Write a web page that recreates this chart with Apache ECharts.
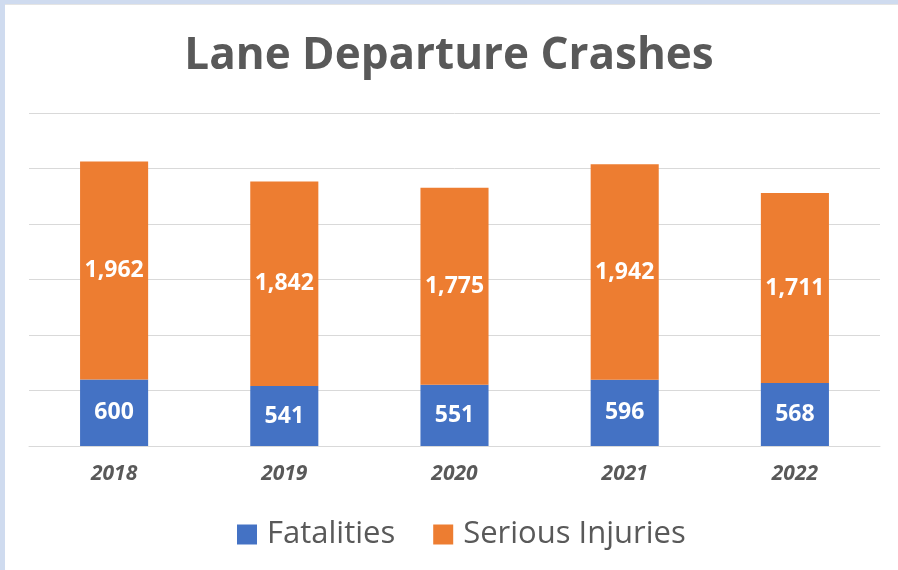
<!DOCTYPE html>
<html>
<head>
<meta charset="utf-8">
<script src="https://cdn.jsdelivr.net/npm/echarts@6/dist/echarts.min.js"></script>
<style>
html,body{margin:0;padding:0;background:#fff;}
#chart{width:898px;height:570px;}
</style>
</head>
<body>
<div id="chart"></div>
<script>
const categories = ['2018', '2019', '2020', '2021', '2022'];
const fatalities = [600, 541, 551, 596, 568];
const seriousInjuries = [1962, 1842, 1775, 1942, 1711];
const seriesNames = ['Fatalities', 'Serious Injuries'];

const chart = echarts.init(document.getElementById('chart'), null, {renderer: 'canvas'});
const FONT = '"Open Sans", "Noto Sans", sans-serif';
const labelStyle = {
  show: true,
  position: 'inside',
  color: '#ffffff',
  fontFamily: FONT,
  fontWeight: 'bold',
  fontSize: 23,
  formatter: p => p.value.toLocaleString('en-US')
};
chart.setOption({
  animation: false,
  backgroundColor: '#ffffff',
  title: {
    text: 'Lane Departure Crashes',
    left: 'center',
    top: 29,
    textStyle: {fontFamily: FONT, fontWeight: 'bold', fontSize: 44, color: '#595959'}
  },
  graphic: [
    {type: 'rect', shape: {x: 0, y: 0, width: 898, height: 4}, style: {fill: '#cfdbef'}, silent: true},
    {type: 'rect', shape: {x: 0, y: 4, width: 898, height: 1}, style: {fill: '#e4e4e4'}, silent: true},
    {type: 'rect', shape: {x: 0, y: 0, width: 5, height: 570}, style: {fill: '#cfdbef'}, silent: true}
  ],
  legend: {
    data: seriesNames,
    top: 514,
    left: 232,
    itemWidth: 20,
    itemHeight: 20,
    itemGap: 38,
    icon: 'rect',
    textStyle: {fontFamily: FONT, fontSize: 31, color: '#595959', padding: [0, 0, 0, 5]}
  },
  grid: {left: 29, right: 18, top: 113, bottom: 124, containLabel: false},
  xAxis: {
    type: 'category',
    data: categories,
    axisLine: {show: true, lineStyle: {color: '#d9d9d9', width: 1}},
    axisTick: {show: false},
    axisLabel: {
      margin: 18,
      fontFamily: FONT,
      fontWeight: 'bold',
      fontStyle: 'italic',
      fontSize: 21,
      color: '#595959'
    }
  },
  yAxis: {
    type: 'value',
    min: 0,
    max: 3000,
    interval: 500,
    axisLabel: {show: false},
    axisLine: {show: false},
    axisTick: {show: false},
    splitLine: {lineStyle: {color: '#d9d9d9', width: 1}}
  },
  series: [
    {
      name: seriesNames[0],
      type: 'bar',
      stack: 'total',
      data: fatalities,
      barWidth: '40%',
      itemStyle: {color: '#4472c4'},
      label: labelStyle
    },
    {
      name: seriesNames[1],
      type: 'bar',
      stack: 'total',
      data: seriousInjuries,
      barWidth: '40%',
      itemStyle: {color: '#ed7d31'},
      label: labelStyle
    }
  ]
});
</script>
</body>
</html>
